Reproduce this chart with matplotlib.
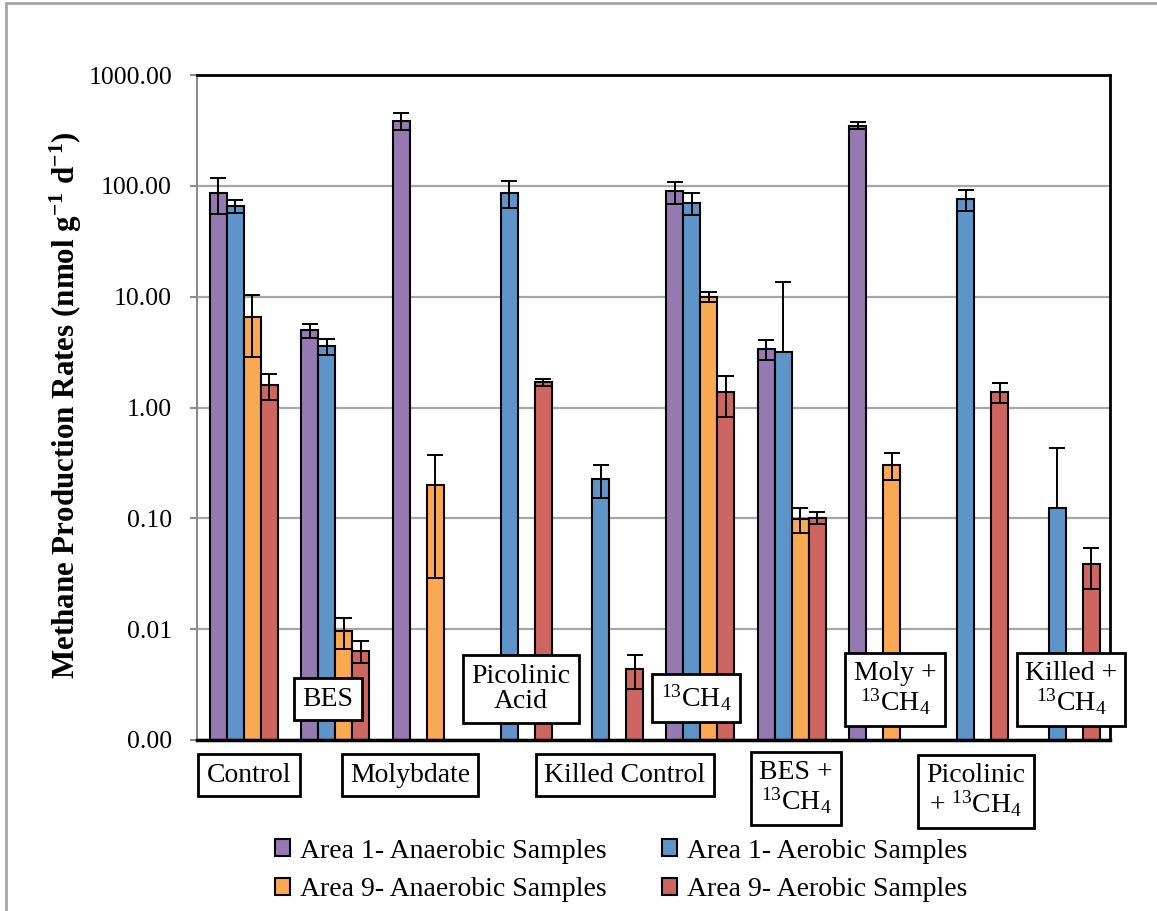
import numpy as np
import matplotlib
matplotlib.use("Agg")
import matplotlib.pyplot as plt
from matplotlib.patches import Rectangle
from matplotlib.ticker import FormatStrFormatter, NullLocator

plt.rcParams['font.family'] = ['Liberation Serif', 'DejaVu Serif']
plt.rcParams['mathtext.fontset'] = 'custom'
plt.rcParams['mathtext.rm'] = 'Liberation Serif'
plt.rcParams['mathtext.it'] = 'Liberation Serif:italic'
plt.rcParams['mathtext.bf'] = 'Liberation Serif:bold'

nan = np.nan

# treatments (x groups)
treatments = ["Control", "BES", "Molybdate", "Picolinic Acid", "Killed Control",
              "13CH4", "BES + 13CH4", "Moly + 13CH4", "Picolinic + 13CH4",
              "Killed + 13CH4"]

# methane production rates (nmol g-1 d-1) and standard deviations
a1_anaerobic = [86.5, 4.97, 387, nan, nan, 89, 3.37, 349, nan, nan]
a1_anaerobic_sd = [31, 0.7, 66, nan, nan, 20, 0.66, 25, nan, nan]
a1_aerobic = [65.5, 3.56, nan, 86.5, 0.227, 70.5, 3.2, nan, 75.3, 0.125]
a1_aerobic_sd = [8.5, 0.6, nan, 23, 0.075, 16, 10.4, nan, 16.5, 0.305]
a9_anaerobic = [6.6, 0.0096, 0.201, nan, nan, 10.0, 0.099, 0.305, nan, nan]
a9_anaerobic_sd = [3.75, 0.003, 0.172, nan, nan, 1.1, 0.026, 0.085, nan, nan]
a9_aerobic = [1.59, 0.0064, nan, 1.69, 0.0044, 1.38, 0.101, nan, 1.38, 0.0387]
a9_aerobic_sd = [0.41, 0.0014, nan, 0.12, 0.0015, 0.56, 0.012, nan, 0.29, 0.0155]

series = [
    ("Area 1- Anaerobic Samples", a1_anaerobic, a1_anaerobic_sd, "#957AB1"),
    ("Area 1- Aerobic Samples", a1_aerobic, a1_aerobic_sd, "#5F94C9"),
    ("Area 9- Anaerobic Samples", a9_anaerobic, a9_anaerobic_sd, "#F9A952"),
    ("Area 9- Aerobic Samples", a9_aerobic, a9_aerobic_sd, "#CD6660"),
]

W, H = 1157, 911
fig = plt.figure(figsize=(W / 100, H / 100), dpi=100)
ax = fig.add_axes([197 / W, 1 - 740 / H, 913 / W, 665 / H])

base = 1e-3
bw = 0.186
x0 = np.arange(len(treatments)) + 0.142
handles = []
for j, (name, vals, sd, col) in enumerate(series):
    v = np.array(vals, dtype=float)
    e = np.array(sd, dtype=float)
    x = x0 + bw * (j + 0.5)
    b = ax.bar(x, v - base, bottom=base, width=bw, color=col,
               edgecolor="black", linewidth=1.5, zorder=2, label=name)
    handles.append(b)
    ok = ~np.isnan(v)
    # lower whisker is dropped when it would reach zero on the log axis
    lower = np.where(e[ok] >= v[ok], 0, e[ok])
    ax.errorbar(x[ok], v[ok], yerr=[lower, e[ok]], fmt="none", ecolor="black",
                elinewidth=1.4, capsize=5.5, capthick=1.4, zorder=3)

ax.set_yscale("log")
ax.set_ylim(1e-3, 1000)
ax.set_xlim(0, len(treatments))
ax.yaxis.set_major_formatter(FormatStrFormatter("%.2f"))
ax.yaxis.set_minor_locator(NullLocator())
ax.set_xticks([])
ax.tick_params(axis="y", direction="out", length=5, width=1.5, color="#8C8C8C",
               labelsize=18.5, pad=13)
ax.grid(axis="y", color="#A6A6A6", linewidth=1.6, zorder=0)
ax.set_axisbelow(True)
ax.spines["left"].set_color("#8C8C8C")
ax.spines["left"].set_linewidth(1.5)
for s in ["top", "right"]:
    ax.spines[s].set_color("black")
    ax.spines[s].set_linewidth(2)
ax.spines["bottom"].set_color("black")
ax.spines["bottom"].set_linewidth(2.5)

fig.text(66 / W, 1 - 405 / H,
         r"Methane Production Rates (nmol g$^{\mathbf{-1}}$ d$^{\mathbf{-1}}$)",
         rotation=90, ha="center", va="center", fontsize=22.3, fontweight="bold")

# treatment name boxes
c13 = r"$^{13}$CH$_4$"
boxes = [
    ("Control", 249, 775),
    ("Molybdate", 410, 775),
    ("Killed Control", 625, 775),
    ("BES +\n" + c13, 796, 788),
    ("Picolinic\n+ " + c13, 976, 791),
    ("BES", 328, 699),
    ("Picolinic\nAcid", 521, 689),
    (c13, 696, 698),
    ("Moly +\n" + c13, 895, 689),
    ("Killed +\n" + c13, 1071, 689),
]
for txt, px, py in boxes:
    fig.text(px / W, 1 - py / H, txt, ha="center", va="center", fontsize=20,
             linespacing=1.05, zorder=5,
             bbox=dict(boxstyle="square,pad=0.3", fc="white", ec="black", lw=2))

fig.legend(handles=[handles[0], handles[2], handles[1], handles[3]],
           labels=[series[0][0], series[2][0], series[1][0], series[3][0]],
           ncol=2, loc="center", bbox_to_anchor=(621 / W, 1 - 870.5 / H),
           frameon=False, fontsize=20, handlelength=0.55, handleheight=0.55,
           handletextpad=0.35, columnspacing=2.0, labelspacing=0.5)

fig.add_artist(Rectangle((6 / W, -0.1), 1.2, 1.1 - 3 / H, transform=fig.transFigure,
                         fill=False, ec="#A6A6A6", lw=2))

fig.savefig("out.png", dpi=100)
